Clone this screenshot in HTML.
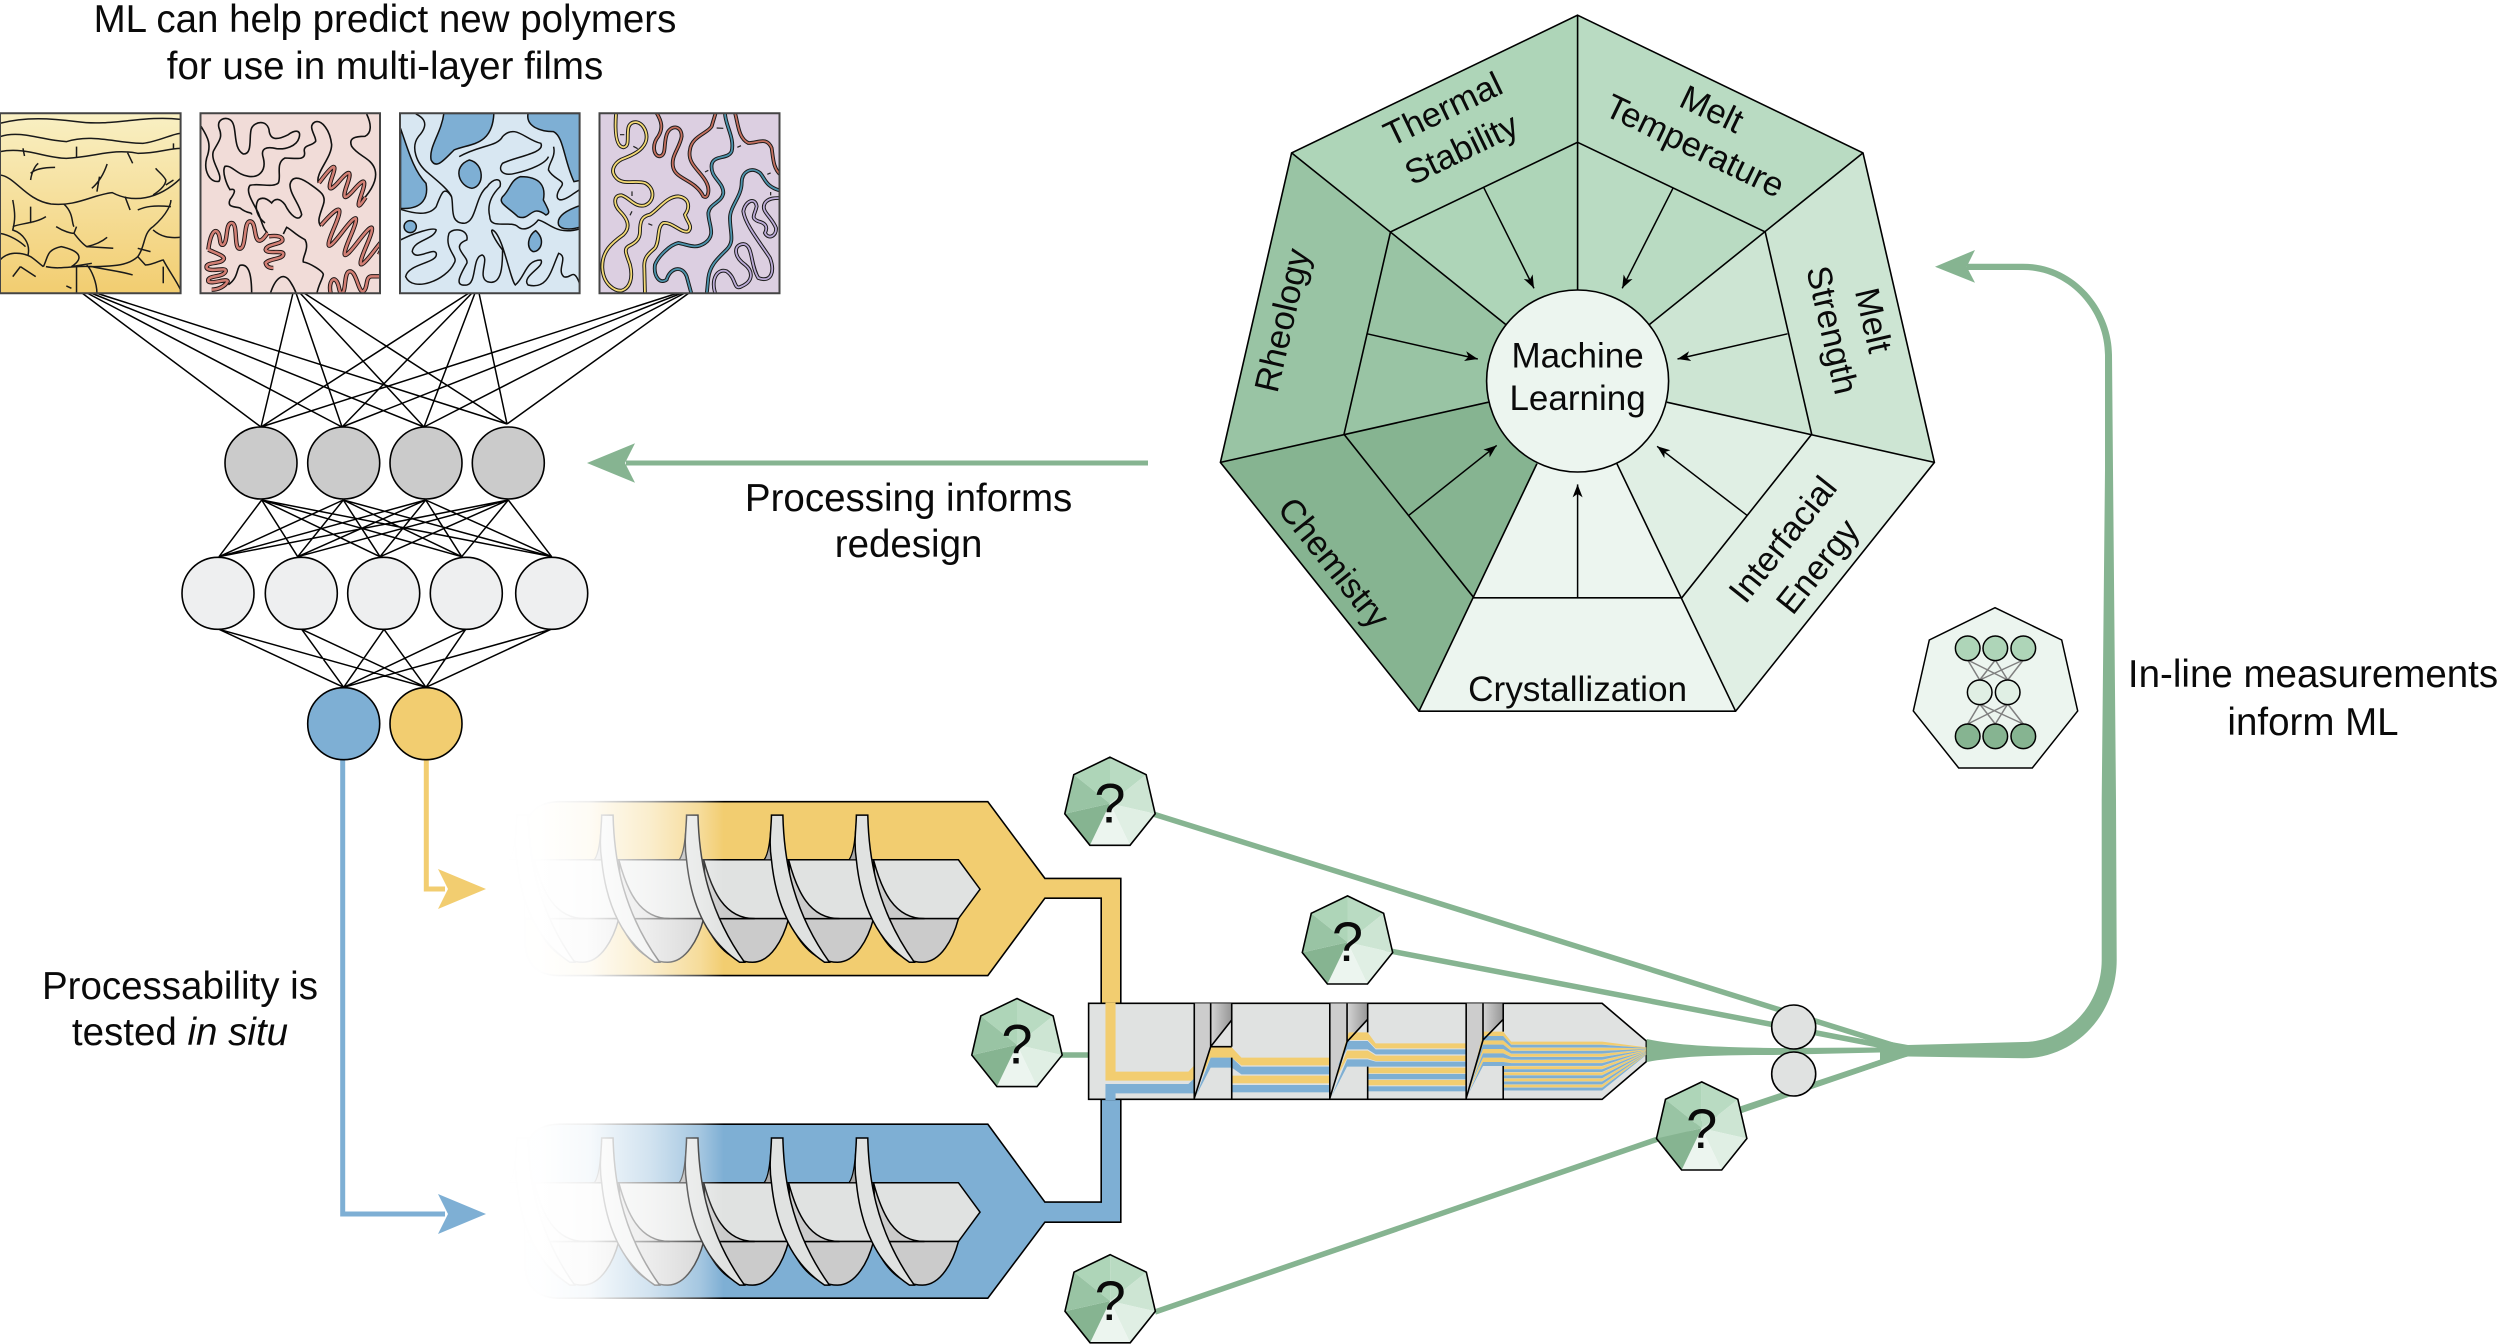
<!DOCTYPE html>
<html><head><meta charset="utf-8"><style>
html,body{margin:0;padding:0;background:#fff}
svg{display:block}
svg *{vector-effect:non-scaling-stroke}
text{font-family:"Liberation Sans",Arial,sans-serif;fill:#0a0a0a;text-anchor:middle}
</style></head><body>
<svg xmlns="http://www.w3.org/2000/svg" width="2500" height="1344" viewBox="0 0 2500 1344">
<defs>
<linearGradient id="g1" x1="0" y1="0" x2="0" y2="1"><stop offset="0" stop-color="#f9f0c4"/><stop offset="1" stop-color="#f2cd70"/></linearGradient>
<linearGradient id="gs" x1="0" y1="0" x2="1" y2="0"><stop offset="0" stop-color="#d4d4d4"/><stop offset="1" stop-color="#979797"/></linearGradient>
<linearGradient id="fade" gradientUnits="userSpaceOnUse" x1="495" y1="0" x2="724" y2="0"><stop offset="0" stop-color="#fff" stop-opacity="1"/><stop offset=".2" stop-color="#fff" stop-opacity=".995"/><stop offset=".415" stop-color="#fff" stop-opacity=".93"/><stop offset=".677" stop-color="#fff" stop-opacity=".65"/><stop offset=".895" stop-color="#fff" stop-opacity=".3"/><stop offset="1" stop-color="#fff" stop-opacity="0"/></linearGradient>
<marker id="ah" markerUnits="userSpaceOnUse" markerWidth="16" markerHeight="14" refX="13" refY="6" orient="auto"><path d="M13,6 L0,1 L3.5,6 L0,11 Z" fill="#000"/></marker>
<clipPath id="c1"><rect x="0" y="113.3" width="180.6" height="180"/></clipPath>
<clipPath id="c2"><rect x="200.5" y="113.3" width="179.5" height="180"/></clipPath>
<clipPath id="c3"><rect x="400" y="113.3" width="179.6" height="180"/></clipPath>
<clipPath id="c4"><rect x="599.5" y="113.3" width="180" height="180"/></clipPath>

<g id="hept">
<polygon points="1291.6,152.9 1577.6,15.2 1577.6,381" fill="#aed5b8"/>
<polygon points="1577.6,15.2 1863,152.9 1577.6,381" fill="#b9dbc2"/>
<polygon points="1863,152.9 1934.4,462.4 1577.6,381" fill="#cde5d3"/>
<polygon points="1934.4,462.4 1735.6,711.2 1577.6,381" fill="#e0efe4"/>
<polygon points="1735.6,711.2 1419,711.2 1577.6,381" fill="#ecf5ef"/>
<polygon points="1419,711.2 1220.4,462.4 1577.6,381" fill="#86b491"/>
<polygon points="1220.4,462.4 1291.6,152.9 1577.6,381" fill="#99c4a4"/>
<polygon points="1577.6,15.2 1863,152.9 1934.4,462.4 1735.6,711.2 1419,711.2 1220.4,462.4 1291.6,152.9" fill="none" stroke="#000" stroke-width="1.6"/>
</g>

<g id="u">
<path d="M855,268 C868,250 870,200 873,165 L885,268 Z" fill="#a9a9a9" stroke="#000" stroke-width="1.2"/>
<path d="M916,426 L1123,426 C1110,480 1080,543 1035,543 C985,543 940,500 916,426 Z" fill="#cbcbcb" stroke="#000" stroke-width="1.5"/>
<path d="M915,268 C935,350 965,426 1040,426 L925,426 Z" fill="#cbcbcb" stroke="#000" stroke-width="1.5"/>
<path d="M873,148 L901,148 C903,240 915,390 1015,543 L1003,543 C930,490 885,400 873,268 C866,220 873,180 873,148 Z" fill="#e0e2e1" stroke="#000" stroke-width="1.5"/>
</g>
<g id="screw">
<polygon points="60,268 1123,268 1176,347 1123,426 60,426" fill="#e0e2e1" stroke="#000" stroke-width="1.5"/>
<use href="#u" transform="translate(-832,0)"/>
<use href="#u" transform="translate(-624,0)"/>
<use href="#u" transform="translate(-416,0)"/>
<use href="#u" transform="translate(-208,0)"/>
<use href="#u"/>
</g>

<path id="y1" d="M63,18 C60,60 60,115 85,118 C105,115 95,90 100,60 C105,35 140,35 152,70 C165,110 130,135 90,150 C60,160 45,185 60,205 C80,235 120,215 150,225 C180,240 180,280 150,292 C120,300 105,270 80,262 C55,260 55,290 75,310 C95,330 110,355 85,380 C50,405 20,430 22,480 C25,530 60,550 80,548 C105,540 115,510 105,470 C95,440 85,425 100,415 C120,405 135,395 135,370 C135,340 140,325 165,320 C190,305 215,265 250,265 C285,270 285,300 270,320 C275,340 295,355 280,370 C260,378 230,340 205,345 C185,355 195,400 180,420 C165,435 145,445 148,480 L150,560"/>
<path id="r1" d="M185,15 C200,40 205,60 190,85 C170,110 175,145 195,145 C215,140 205,110 215,80 C225,50 260,50 260,85 C255,120 225,145 235,180 C245,215 300,215 325,265 C340,275 345,245 335,225 C320,190 275,170 285,125 C290,85 340,75 350,55 L362,15"/>
<path id="r2" d="M420,15 C430,50 430,90 460,105 C490,105 515,85 530,120 C535,155 535,180 556,200"/>
<path id="t1" d="M390,15 C390,50 420,90 410,130 C400,155 355,140 350,170 C345,210 385,220 385,255 C380,285 345,285 340,315 C340,350 365,380 330,405 C300,425 280,410 250,405 C225,410 190,445 180,470 C175,505 195,530 215,515 C225,480 260,470 275,505 L290,560"/>
<path id="t2" d="M556,248 C510,235 510,210 495,195 C470,175 440,190 440,225 C440,265 405,295 405,330 C405,375 420,400 395,425 C370,450 345,470 340,510 L335,560"/>
<path id="pu" d="M362,560 C345,510 370,480 395,490 C425,510 415,550 440,535 C475,520 475,490 450,470 C415,445 415,410 445,408 C475,410 465,470 490,510 C530,525 540,490 525,450 C500,410 450,350 445,310 C450,280 480,265 485,295 C480,320 465,330 490,340 C510,345 520,355 510,375 C520,395 545,385 543,360 C530,325 495,310 510,285 C520,270 540,270 556,270"/>

<path id="ca" d="M372,225 Q435,140 412,205 T434,218 T456,231 T478,244 T500,257 T512,268"/>
<path id="cb" d="M378,352 Q462,255 418,358 T442,372 T466,386 T490,400 T514,414 T538,428 T552,440"/>
<path id="cc" d="M40,425 C45,385 55,365 65,370 C80,380 70,415 85,410 C100,400 90,345 110,345 C130,345 115,425 135,422 C155,420 145,340 165,340 C185,340 175,400 195,398 C205,395 210,385 218,375"/>
<path id="cd" d="M40,425 C60,435 95,445 85,455 C75,470 30,460 35,480 C45,495 95,475 92,490 C85,510 35,500 40,520 C50,530 95,510 98,520 C90,535 70,545 50,545"/>
<path id="ce" d="M222,385 C245,382 265,385 262,398 C255,410 215,408 212,425 C215,440 265,425 265,438 C265,455 225,450 212,465 C215,478 225,480 235,480"/>
<path id="cf" d="M408,560 C400,530 410,510 420,515 C435,525 430,555 440,555 C455,555 445,490 465,490 C485,490 490,555 505,550 C520,540 510,505 530,505 L560,505"/>
</defs>

<rect width="2500" height="1344" fill="#fff"/>

<!-- header text -->
<text x="385" y="32" font-size="38.5">ML can help predict new polymers</text>
<text x="385" y="79" font-size="38.5">for use in multi-layer films</text>

<!-- network lines -->
<path fill="none" stroke="#000" stroke-width="1.5" d="
M82,293 L261,427 M87,293 L342,427 M91,293 L424,427 M96,293 L507,424
M293,293 L261,427 M296,293 L342,427 M300,293 L424,427 M304,293 L507,424
M469,293 L261,427 M472,293 L342,427 M475,293 L424,427 M479,293 L507,424
M678,293 L261,427 M682,293 L342,427 M685,293 L424,427 M689,293 L507,424
M261.7,500 L219,556.7 M261.7,500 L297.7,556.7 M261.7,500 L380,556.7 M261.7,500 L461.7,556.7 M261.7,500 L551.7,556.7
M343.3,500 L219,556.7 M343.3,500 L297.7,556.7 M343.3,500 L380,556.7 M343.3,500 L461.7,556.7 M343.3,500 L551.7,556.7
M425.7,500 L219,556.7 M425.7,500 L297.7,556.7 M425.7,500 L380,556.7 M425.7,500 L461.7,556.7 M425.7,500 L551.7,556.7
M508.3,500 L219,556.7 M508.3,500 L297.7,556.7 M508.3,500 L380,556.7 M508.3,500 L461.7,556.7 M508.3,500 L551.7,556.7
M219,629.3 L343.7,687.3 M219,629.3 L426,687.3
M301.7,629.3 L343.7,687.3 M301.7,629.3 L426,687.3
M384,629.3 L343.7,687.3 M384,629.3 L426,687.3
M465.7,629.3 L343.7,687.3 M465.7,629.3 L426,687.3
M551,629.3 L343.7,687.3 M551,629.3 L426,687.3"/>
<g stroke="#000" stroke-width="1.6">
<g fill="#cbcbcb"><circle cx="261" cy="463" r="36"/><circle cx="343.7" cy="463" r="36"/><circle cx="426" cy="463" r="36"/><circle cx="508.3" cy="463" r="36"/></g>
<g fill="#eeeff0"><circle cx="218" cy="593.3" r="36"/><circle cx="301.3" cy="593.3" r="36"/><circle cx="383.7" cy="593.3" r="36"/><circle cx="466.3" cy="593.3" r="36"/><circle cx="551.7" cy="593.3" r="36"/></g>
</g>
<!-- output connectors -->
<path d="M342.7,759 V1214 H445" fill="none" stroke="#7eafd4" stroke-width="5"/>
<path d="M426.3,759 V889 H445" fill="none" stroke="#f2cd70" stroke-width="5"/>
<circle cx="343.7" cy="723.7" r="36" fill="#7eafd4" stroke="#000" stroke-width="1.6"/>
<circle cx="426" cy="723.7" r="36" fill="#f2cd70" stroke="#000" stroke-width="1.6"/>
<polygon points="486,889 438,869 448,889 438,909" fill="#f2cd70"/>
<polygon points="486,1214 438,1194 448,1214 438,1234" fill="#7eafd4"/>

<!-- box 1 -->
<g clip-path="url(#c1)">
<rect x="0" y="113.3" width="180.6" height="180" fill="url(#g1)"/>
<g transform="scale(.5102,.3333)" fill="none" stroke="#1a1a1a" stroke-width="1.5">
<path d="M0,370 C50,350 100,355 150,365 C220,380 280,345 354,358"/>
<path d="M0,410 C40,390 80,420 130,425 C180,400 230,430 280,430 C310,425 340,400 354,400"/>
<path d="M0,455 C50,440 90,475 130,475 C190,470 220,445 270,460 C310,460 330,445 354,445"/>
<path d="M45,445 L48,468 M150,440 L150,472 M250,458 L260,490 M340,430 L340,448"/>
<path d="M0,525 C30,530 50,600 100,612 C150,620 180,585 220,578 C260,610 310,600 354,535"/>
<path d="M60,540 C62,515 70,495 75,490 M60,520 C70,505 90,502 108,502 M180,565 C195,545 205,515 210,492 M190,575 L195,530 M300,585 C315,570 325,555 325,540 C320,525 310,515 305,505 M325,555 L340,540"/>
<path d="M125,612 C145,640 140,670 145,680 M245,590 L255,630"/>
<path d="M270,630 C285,620 300,615 335,620 M300,680 C330,640 335,610 335,600"/>
<path d="M300,680 C280,700 285,740 270,770 C255,790 240,800 175,800 M300,690 C315,710 330,715 354,712 M270,745 L295,755 M270,770 L285,795 C300,795 315,780 320,780 C330,810 345,840 354,870"/>
<path d="M25,600 C30,640 30,660 25,690 C45,700 60,730 55,765 M60,620 L60,670 M25,680 C40,670 70,670 90,650 M0,700 C20,705 40,725 50,740"/>
<path d="M0,780 C15,755 40,755 60,770 C70,780 80,795 85,800 M85,800 C95,770 90,750 120,740 C150,750 170,770 140,800 L180,790 M90,800 C120,810 150,795 180,800 C210,810 240,815 260,825"/>
<path d="M150,800 L150,880 M190,880 C190,850 180,810 170,795 M110,680 C125,695 140,700 145,700 L150,680 M145,700 C155,720 165,735 170,740 C185,735 200,725 210,712 M170,740 L222,745 M130,858 L140,865 M40,800 L25,830 M40,800 L70,830 M320,800 L320,850"/>
</g></g>
<rect x="0" y="113.3" width="180.6" height="180" fill="none" stroke="#444" stroke-width="2"/>

<!-- box 2 -->
<g clip-path="url(#c2)">
<rect x="200.5" y="113.3" width="179.5" height="180" fill="#f1dcd8"/>
<g transform="translate(195,108) scale(.3333)" fill="none" stroke="#111" stroke-width="1.6">
<path d="M18,55 C40,90 50,110 35,150 C25,190 45,225 72,220 C85,200 45,160 55,130 C70,100 85,90 72,60 C65,35 90,25 105,35 C130,50 110,120 145,138 C175,140 160,80 170,60 C180,40 215,35 222,65 C225,100 250,95 280,80 C300,65 320,65 312,90 C305,115 270,125 245,122 C215,115 195,120 205,150 C215,190 190,210 160,205 C125,200 110,170 90,175 C80,190 95,230 105,245 C125,240 120,255 105,275 C95,300 120,295 135,300 C160,320 170,310 170,320"/>
<path d="M370,225 C360,195 410,150 410,110 C405,65 380,35 360,42 C335,55 365,85 362,100 C350,115 325,110 328,130 C335,160 300,150 270,150 C240,165 260,205 250,225 C235,240 190,225 165,232 C150,250 175,285 190,315 C200,340 205,365 218,375"/>
<path d="M190,275 C175,300 190,330 210,345 M190,275 C205,265 220,275 230,285 C240,270 255,270 270,290 C285,320 310,345 320,320 C315,290 285,260 285,230 C290,205 310,205 340,225 C375,250 395,260 385,290 C375,320 365,340 378,355"/>
<path d="M515,18 C530,50 530,75 510,85 C480,85 460,90 470,115 C490,145 530,150 540,185 C550,220 520,260 490,290"/>
<path d="M265,378 L275,358 C290,365 300,380 330,395 C345,420 320,450 325,462 C345,465 385,490 385,500 C380,520 370,530 365,560"/>
<path d="M100,530 C130,510 125,480 135,472 C165,465 170,510 170,560 M225,560 C240,510 265,490 285,520 C295,535 300,545 305,560"/>
</g>
<g transform="translate(195,108) scale(.3333)" fill="none" stroke="#1c1414" stroke-width="4.4" stroke-linejoin="round">
<use href="#ca"/><use href="#cb"/><use href="#cc"/><use href="#cd"/><use href="#ce"/><use href="#cf"/>
</g>
<g transform="translate(195,108) scale(.3333)" fill="none" stroke="#d27f74" stroke-width="2.5" stroke-linejoin="round">
<use href="#ca"/><use href="#cb"/><use href="#cc"/><use href="#cd"/><use href="#ce"/><use href="#cf"/>
</g>
</g>
<rect x="200.5" y="113.3" width="179.5" height="180" fill="none" stroke="#444" stroke-width="2"/>

<!-- box 3 -->
<g clip-path="url(#c3)">
<rect x="400" y="113.3" width="179.6" height="180" fill="#d8e7f2"/>
<g transform="scale(.5102,.3333)" stroke="#111" stroke-width="1.5">
<g fill="#7eafd4">
<path d="M785,385 C800,450 810,510 835,550 C840,590 830,630 785,625 Z"/>
<path d="M870,340 C865,400 840,440 845,480 C855,510 870,480 890,450 C920,430 965,440 968,340 Z"/>
<path d="M1035,340 C1030,380 1060,395 1085,395 C1105,410 1105,480 1125,545 L1140,540 L1140,340 Z"/>
<path d="M920,480 C950,490 950,560 925,565 C900,560 885,500 920,480 Z"/>
<path d="M1020,530 C1060,530 1070,560 1065,600 C1075,630 1080,640 1070,645 C1040,610 1040,665 1015,650 C995,620 975,610 985,590 C1000,570 1000,540 1020,530 Z"/>
<path d="M1140,615 C1110,630 1090,650 1095,675 C1100,690 1120,690 1140,680 Z"/>
<ellipse cx="804" cy="680" rx="12" ry="18"/>
<path d="M1050,692 C1070,720 1060,755 1045,755 C1030,745 1035,705 1050,692 Z"/>
</g>
<g fill="none">
<path d="M815,342 C840,360 835,385 820,410 C805,440 815,490 840,520 C855,540 880,570 885,590 C890,620 880,670 910,670 C935,665 930,590 955,560 C965,535 985,530 980,560 C960,590 955,620 960,650 C960,690 1000,660 1015,680 C1030,700 1050,670 1055,660 C1075,665 1090,710 1140,685"/>
<path d="M785,628 C810,640 840,650 855,620 C865,580 870,555 885,590"/>
<path d="M1085,440 C1090,470 1075,490 1075,510 C1085,540 1110,540 1100,560 C1085,590 1090,620 1125,580 L1140,565"/>
<path d="M900,470 C940,435 975,440 985,410 C1010,370 1030,420 1060,430 C1070,460 1010,470 985,490 C975,510 985,530 1010,520 C1040,510 1070,490 1075,470"/>
<path d="M785,720 C810,700 850,680 855,690 C850,720 810,720 808,755 C815,785 850,740 855,760 C860,790 800,790 795,830 C810,880 875,840 890,790 C900,770 870,750 880,700 C890,680 920,690 915,720 C880,740 920,770 915,790 C900,830 890,860 915,855 C935,850 925,770 945,765 C960,775 935,830 955,845 C985,860 985,790 985,750 C970,720 960,690 965,690 C985,700 1000,840 1010,855 C1030,830 1030,780 1060,780 C1070,800 1020,830 1035,855 C1075,870 1080,810 1095,760 C1115,770 1090,810 1105,830 C1120,840 1125,790 1140,870"/>
</g></g></g>
<rect x="400" y="113.3" width="179.6" height="180" fill="none" stroke="#444" stroke-width="2"/>

<!-- box 4 -->
<g clip-path="url(#c4)">
<rect x="599.5" y="113.3" width="180" height="180" fill="#dccfe1"/>
<g transform="translate(595,108) scale(.3333)" fill="none" stroke="#1a1a1a" stroke-width="3.8">
<use href="#y1"/><use href="#r1"/><use href="#r2"/><use href="#t1"/><use href="#t2"/><use href="#pu"/>
</g>
<g transform="translate(595,108) scale(.3333)" fill="none" stroke-width="1.8">
<use href="#y1" stroke="#f4da76"/><use href="#r1" stroke="#c5705f"/><use href="#r2" stroke="#c5705f"/><use href="#t1" stroke="#4d94ad"/><use href="#t2" stroke="#4d94ad"/><use href="#pu" stroke="#bcabd8"/>
<path stroke="#222" stroke-width="1.2" d="M75,80 L88,80 M115,115 L128,122 M111,250 L111,264 M105,322 L111,310 M160,347 L172,352 M365,60 L385,61 M427,118 L438,113 M330,192 L340,187 M517,199 L527,195 M527,252 L527,262"/>
</g></g>
<rect x="599.5" y="113.3" width="180" height="180" fill="none" stroke="#444" stroke-width="2"/>

<!-- central heptagon -->
<use href="#hept"/>
<g fill="none" stroke="#000" stroke-width="1.6">
<polygon points="1577.6,142.3 1765.2,231.9 1811.7,434.3 1681.8,597.8 1473.9,597.8 1344,434.3 1390.5,231.9"/>
<path d="M1577.6,15.2 L1577.6,290.6 M1863,152.9 L1649.3,324.6 M1934.4,462.4 L1666.8,402.2 M1735.6,711.2 L1616.9,463.7 M1419,711.2 L1536.9,463.7 M1220.4,462.4 L1488.4,402.2 M1291.6,152.9 L1505.9,324.6"/>
</g>
<circle cx="1577.6" cy="381" r="91" fill="#ecf5ef" stroke="#000" stroke-width="1.6"/>
<g stroke="#000" stroke-width="1.5" fill="none">
<line x1="1483.6" y1="187.3" x2="1534" y2="288.3" marker-end="url(#ah)"/>
<line x1="1673" y1="188.2" x2="1622.2" y2="288.3" marker-end="url(#ah)"/>
<line x1="1787.5" y1="333.8" x2="1677.5" y2="359" marker-end="url(#ah)"/>
<line x1="1367.2" y1="333.8" x2="1477.8" y2="359" marker-end="url(#ah)"/>
<line x1="1409" y1="515.2" x2="1496.7" y2="445.4" marker-end="url(#ah)"/>
<line x1="1746.8" y1="515.2" x2="1657.1" y2="446.3" marker-end="url(#ah)"/>
<line x1="1577.6" y1="597.8" x2="1577.6" y2="484.4" marker-end="url(#ah)"/>
</g>
<text x="1577.6" y="367.5" font-size="35">Machine</text>
<text x="1577.6" y="410" font-size="35">Learning</text>
<text x="1577.6" y="701" font-size="35.2">Crystallization</text>
<g font-size="34.5">
<text transform="translate(1442.4,108) rotate(-25.7)" y="13">Thermal</text>
<text transform="translate(1460.8,147.8) rotate(-25.7)" y="13">Stability</text>
<text transform="translate(1712.4,107.9) rotate(25.7)" y="13">Melt</text>
<text transform="translate(1695.4,144.6) rotate(25.7)" y="13">Temperature</text>
<text transform="translate(1874.7,320) rotate(77)" y="13">Melt</text>
<text transform="translate(1833.5,329.7) rotate(77)" y="13">Strength</text>
<text transform="translate(1281,320) rotate(-77)" y="13">Rheology</text>
<text transform="translate(1334.8,562) rotate(51.4)" y="13">Chemistry</text>
<text transform="translate(1781.7,538.6) rotate(-51.4)" y="13">Interfacial</text>
<text transform="translate(1816.6,565.6) rotate(-51.4)" y="13">Energy</text>
</g>

<!-- green arrow processing -->
<line x1="1148" y1="463" x2="626" y2="463" stroke="#86b491" stroke-width="5"/>
<polygon points="587,463 635,443.3 625,463 635,482.7" fill="#86b491"/>
<text x="908.6" y="511" font-size="38.5">Processing informs</text>
<text x="908.6" y="557" font-size="38.5">redesign</text>
<text x="2313" y="687" font-size="38.5">In-line measurements</text>
<text x="2313" y="735" font-size="38.5">inform ML</text>
<text x="180" y="999" font-size="38.5">Processability is</text>
<text x="180" y="1045" font-size="38.5">tested <tspan font-style="italic">in situ</tspan></text>

<!-- small NN heptagon -->
<polygon points="1995,607.7 2061.7,640 2077.7,711 2032.3,768 1958.7,768 1913.3,711 1929.3,640" fill="#ecf5ef" stroke="#000" stroke-width="1.5"/>
<path fill="none" stroke="#808080" stroke-width="1.5" d="M1967.7,660 L1979.7,680 M1967.7,660 L2007.7,680 M1995.3,660 L1979.7,680 M1995.3,660 L2007.7,680 M2023.3,660 L1979.7,680 M2023.3,660 L2007.7,680 M1979.7,704 L1967.7,724 M1979.7,704 L1995.3,724 M1979.7,704 L2023.3,724 M2007.7,704 L1967.7,724 M2007.7,704 L1995.3,724 M2007.7,704 L2023.3,724"/>
<g stroke="#000" stroke-width="1.5">
<g fill="#aed5b8"><circle cx="1967.7" cy="648.3" r="12.3"/><circle cx="1995.3" cy="648.3" r="12.3"/><circle cx="2023.3" cy="648.3" r="12.3"/></g>
<g fill="#e0efe4"><circle cx="1979.7" cy="692.3" r="12.3"/><circle cx="2007.7" cy="692.3" r="12.3"/></g>
<g fill="#86b491"><circle cx="1967.7" cy="736.3" r="12.3"/><circle cx="1995.3" cy="736.3" r="12.3"/><circle cx="2023.3" cy="736.3" r="12.3"/></g>
</g>

<!-- hoppers -->
<path d="M560,801.7 L987.8,801.7 L1044.9,878.4 L1120.8,878.4 L1120.8,1010 L1101.2,1010 L1101.2,898.2 L1044.9,898.2 L987.8,975.6 L560,975.6 Q525,975.6 525,940 L525,837 Q525,801.7 560,801.7 Z" fill="#f2cd70" stroke="#000" stroke-width="1.6"/>
<path d="M560,1124.2 L987.8,1124.2 L1044.9,1202.1 L1101.2,1202.1 L1101.2,1092 L1120.8,1092 L1120.8,1222.2 L1044.9,1222.2 L987.8,1298.2 L560,1298.2 Q525,1298.2 525,1263 L525,1160 Q525,1124.2 560,1124.2 Z" fill="#7eafd4" stroke="#000" stroke-width="1.6"/>
<use href="#screw" transform="translate(500,760) scale(.4082,.3724)"/>
<use href="#screw" transform="translate(500,1082.9) scale(.4082,.3724)"/>
<rect x="495" y="795" width="230" height="186" fill="url(#fade)"/>
<rect x="495" y="1118" width="230" height="186" fill="url(#fade)"/>

<!-- green lines -->
<g stroke="#86b491" fill="none" stroke-width="5.5">
<line x1="1150" y1="813" x2="1905" y2="1049"/>
<line x1="1385" y1="950" x2="1905" y2="1050"/>
<line x1="1155" y1="1312" x2="1908" y2="1053"/>
<line x1="1741" y1="1109" x2="1906" y2="1054"/>
<line x1="1060" y1="1055" x2="1088" y2="1055"/>
</g>
<path d="M1880,1040 L1908,1045 L1908,1056.5 L1880,1064 Z" fill="#86b491"/>
<path d="M1966.7,263.7 L2023,263.7 C2075,263.7 2112,310 2112,355 L2113,470 L2116,800 L2116.7,960 C2116.7,1015 2075,1058.3 2023,1058.3 L1908,1056.5 L1908,1045 L2023,1042 C2067,1042 2101.7,1005 2101.7,960 L2101.7,800 L2105,470 L2105,355 C2105,312 2070,270 2023,270 L1966.7,270 Z" fill="#86b491"/>
<polygon points="1935,266.7 1975,250 1966.7,266.7 1975,282.7" fill="#86b491"/>

<!-- die -->
<g transform="translate(1060,960) scale(.4209,.3333)">
<polygon points="68,130 1288,130 1393,243 1393,305 1288,418 68,418" fill="#e0e2e1" stroke="#000" stroke-width="1.6"/>
<g fill="#cdcdcd">
<polygon points="319,130 358,130 358,260 319,415"/>
<polygon points="641,130 682,130 682,245 641,415"/>
<polygon points="965,130 1005,130 1005,240 965,415"/>
</g>
<g fill="url(#gs)">
<polygon points="358,130 408,130 408,180 358,260"/>
<polygon points="682,130 731,130 731,178 682,245"/>
<polygon points="1005,130 1053,130 1053,178 1005,240"/>
</g>
<g fill="#f2cd70">
<polygon points="108,128 132,128 132,335 305,335 319,316 319,362 108,362"/>
<polygon points="358,262 408,262 431,293 641,293 641,316 431,316 408,293 358,293 332,365"/>
<rect x="408" y="347" width="233" height="23"/>
<polygon points="686,217 731,217 750,250 965,250 965,265 750,265 731,240 682,240 665,300"/>
<polygon points="682,272 731,272 750,287 965,287 965,303 750,303 731,295 682,295 652,365"/>
<rect x="731" y="323" width="234" height="17"/><rect x="731" y="360" width="234" height="16"/>
<polygon points="1005,215 1053,215 1072,245 1288,245 1393,262 1393,264 1288,253.4 1072,253.4 1053,228 1005,228 986,320"/>
<polygon points="1005,241 1053,241 1072,263.4 1288,263.4 1393,265 1393,267 1288,271.8 1072,271.8 1053,254 1005,254 980,347"/>
<polygon points="1005,267 1053,267 1072,281.8 1288,281.8 1393,268 1393,270 1288,290.2 1072,290.2 1053,280 1005,280 974,374"/>
<polygon points="1005,293 1053,293 1072,300.2 1288,300.2 1393,270.5 1393,272.5 1288,308.6 1072,308.6 1053,306 1005,306 968,401"/>
<polygon points="1053,318.6 1288,318.6 1393,273 1393,275 1288,327 1053,327"/>
<polygon points="1053,337 1288,337 1393,276 1393,278 1288,345.4 1053,345.4"/>
<polygon points="1053,355.4 1288,355.4 1393,279 1393,281 1288,363.8 1053,363.8"/>
<polygon points="1053,373.8 1288,373.8 1393,281.5 1393,283.5 1288,382.2 1053,382.2"/>
</g>
<g fill="#7eafd4">
<polygon points="108,372 305,372 319,355 319,400 132,400 132,420 108,420"/>
<polygon points="358,293 408,293 431,320 641,320 641,343 431,343 408,323 358,323 323,408"/>
<rect x="408" y="375" width="233" height="22"/>
<polygon points="682,243 731,243 750,268 965,268 965,283 750,283 731,268 682,268 660,320"/>
<polygon points="682,298 731,298 750,305 965,305 965,320 750,320 731,320 682,320 645,410"/>
<rect x="731" y="342" width="234" height="16"/><rect x="731" y="379" width="234" height="15"/>
<polygon points="1005,228 1053,228 1072,254.2 1288,254.2 1393,264 1393,265 1288,262.6 1072,262.6 1053,241 1005,241 983,333"/>
<polygon points="1005,254 1053,254 1072,272.6 1288,272.6 1393,267 1393,268 1288,281 1072,281 1053,267 1005,267 977,360"/>
<polygon points="1005,280 1053,280 1072,291 1288,291 1393,270 1393,270.5 1288,299.4 1072,299.4 1053,293 1005,293 971,387"/>
<polygon points="1005,306 1053,306 1072,309.4 1288,309.4 1393,272.5 1393,273 1288,317.8 1072,317.8 1053,318 1005,318 966,412"/>
<polygon points="1053,327.8 1288,327.8 1393,275 1393,276 1288,336.2 1053,336.2"/>
<polygon points="1053,346.2 1288,346.2 1393,278 1393,279 1288,354.6 1053,354.6"/>
<polygon points="1053,364.6 1288,364.6 1393,281 1393,281.5 1288,373 1053,373"/>
<polygon points="1053,383 1288,383 1393,283.5 1393,284.5 1288,391.4 1053,391.4"/>
</g>
<g fill="none" stroke="#000" stroke-width="1.6">
<path d="M319,130 V418 M358,130 V260 M408,130 V260 M358,260 H408 M319,415 L358,260 L408,180"/>
<path d="M408,293 V418 M641,130 V418 M682,130 V245 M731,130 V217 M731,320 V418 M641,415 L682,245 L731,178"/>
<path d="M965,130 V418 M1005,130 V240 M1053,130 V215 M1053,318 V418 M965,415 L1005,240 L1053,178"/>
</g>
</g>

<!-- wedge leaving die -->
<path d="M1646.7,1039 C1680,1046 1720,1047 1773,1048 L1880,1047.5 L1880,1052.5 L1773,1055 C1720,1055 1680,1056 1646.7,1062 Z" fill="#86b491"/>

<!-- rollers -->
<circle cx="1793.7" cy="1027" r="22" fill="#e0e2e1" stroke="#000" stroke-width="1.6"/>
<circle cx="1793.7" cy="1074" r="22" fill="#e0e2e1" stroke="#000" stroke-width="1.6"/>

<!-- small heptagons -->
<use href="#hept" transform="translate(1110,803.5) scale(.1266) translate(-1577.6,-381)"/>
<use href="#hept" transform="translate(1347.5,942.2) scale(.1266) translate(-1577.6,-381)"/>
<use href="#hept" transform="translate(1017,1044.8) scale(.1266) translate(-1577.6,-381)"/>
<use href="#hept" transform="translate(1110.2,1301) scale(.1266) translate(-1577.6,-381)"/>
<use href="#hept" transform="translate(1701.7,1128.2) scale(.1266) translate(-1577.6,-381)"/>
<g font-size="56">
<text x="1110" y="822.5">?</text>
<text x="1347.5" y="961">?</text>
<text x="1017" y="1063.5">?</text>
<text x="1110.2" y="1320">?</text>
<text x="1701.7" y="1148">?</text>
</g>
</svg>
</body></html>
